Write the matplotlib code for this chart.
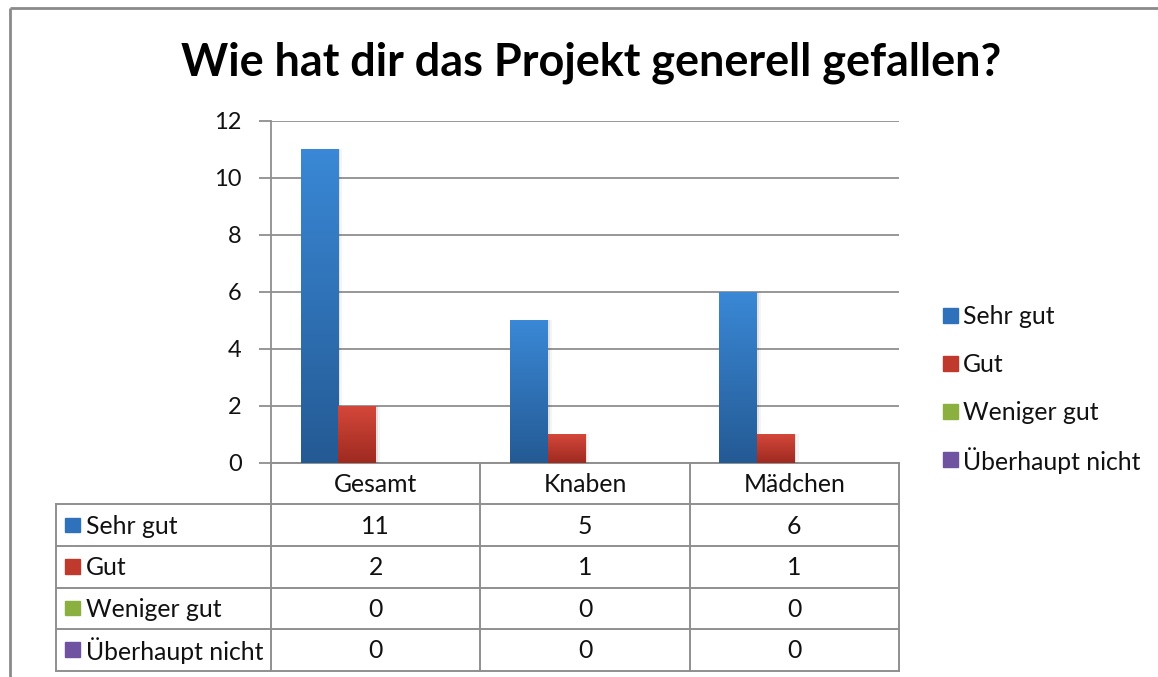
import numpy as np
import matplotlib
matplotlib.use("Agg")
import matplotlib.pyplot as plt
from matplotlib.patches import Rectangle
from matplotlib.colors import LinearSegmentedColormap

# ---------------- data ----------------
title = "Wie hat dir das Projekt generell gefallen?"
categories = ["Gesamt", "Knaben", "Mädchen"]
series_names = ["Sehr gut", "Gut", "Weniger gut", "Überhaupt nicht"]
sehr_gut = [11, 5, 6]
gut = [2, 1, 1]
weniger_gut = [0, 0, 0]
ueberhaupt_nicht = [0, 0, 0]
series_values = [sehr_gut, gut, weniger_gut, ueberhaupt_nicht]
y_ticks = [0, 2, 4, 6, 8, 10, 12]

# ---------------- style ----------------
top_colors = ["#3a88d6", "#d4473a", "#9bc04f", "#8064a8"]
bot_colors = ["#245a94", "#9e2a20", "#6e8f2f", "#5a3f85"]
mid_colors = ["#2f72bb", "#c0392d", "#8bb040", "#6f52a0"]
grid_c = "#8f8f8f"
text_c = "#111111"

plt.rcParams['font.family'] = ['Lato', 'DejaVu Sans']

W, H = 1158, 677
fig = plt.figure(figsize=(W / 100, H / 100), dpi=100)
fig.patch.set_facecolor("white")

# overlay axes in pixel coordinates (origin top-left)
ov = fig.add_axes([0, 0, 1, 1], zorder=0)
ov.set_xlim(0, W)
ov.set_ylim(H, 0)
ov.axis("off")

# main plot axes
L, R, T, B = 271, 899, 120.7, 462.7
ax = fig.add_axes([L / W, (H - B) / H, (R - L) / W, (B - T) / H], zorder=2)
ax.patch.set_visible(False)

n_cat = len(categories)
n_ser = len(series_values)
x = np.arange(n_cat)
bw = 0.179

for si, vals in enumerate(series_values):
    offs = (si - (n_ser - 1) / 2) * bw
    bars = ax.bar(x + offs, vals, width=bw, color=mid_colors[si], zorder=3,
                  linewidth=0)
    cmap = LinearSegmentedColormap.from_list("g%d" % si, [bot_colors[si], top_colors[si]])
    for p in bars:
        bx, by = p.get_x(), p.get_y()
        bwid, bh = p.get_width(), p.get_height()
        if bh <= 0:
            continue
        # soft shadow
        for k, a in enumerate([0.07, 0.04]):
            sh = Rectangle((bx + bwid, by), 0.01 * (k + 1), bh, color="#000000",
                           alpha=a, zorder=2, linewidth=0)
            ax.add_patch(sh)
        grad = np.linspace(0, 1, 256).reshape(-1, 1)
        im = ax.imshow(grad, cmap=cmap, extent=[bx, bx + bwid, by, by + bh],
                       origin="lower", aspect="auto", zorder=4)
        im.set_clip_path(p)

ax.set_xlim(-0.5, n_cat - 0.5)
ax.set_ylim(0, 12)
ax.set_yticks(y_ticks)
ax.set_yticklabels([str(t) for t in y_ticks], fontsize=17, color=text_c)
ax.set_xticks([])
ax.tick_params(axis="y", length=9, width=1.3, color=grid_c, pad=12)
ax.grid(axis="y", color=grid_c, linewidth=1.3, zorder=1)
ax.set_axisbelow(True)
for s in ["top", "right", "bottom"]:
    ax.spines[s].set_visible(False)
ax.spines["left"].set_color(grid_c)
ax.spines["left"].set_linewidth(1.3)

fig.canvas.draw()


def px(xd, yd):
    dx, dy = ax.transData.transform((xd, yd))
    return dx, H - dy


# ---------------- outer border ----------------
ov.plot([9.5, W], [8.3, 8.3], color="#8a8a8a", lw=2.0, solid_capstyle="butt")
ov.plot([9.5, 9.5], [8.3, H], color="#8a8a8a", lw=2.0, solid_capstyle="butt")

# ---------------- title ----------------
fig.text(591 / W, 1 - 63 / H, title, ha="center", va="center",
         fontsize=32.4, fontweight="bold", color="#000000")

# ---------------- data table ----------------
col_edges = [px(xi - 0.5, 0)[0] for xi in range(n_cat + 1)]
tab_left = 55.7
row_h = 41.6
tab_top = px(0, 0)[1]
row_edges = [tab_top + i * row_h for i in range(n_ser + 2)]
tab_bot = row_edges[-1]
lc = "#8f8f8f"
lw = 1.4
# horizontal lines
ov.plot([col_edges[0], col_edges[-1]], [row_edges[0], row_edges[0]], color=lc, lw=lw, zorder=3)
for ry in row_edges[1:]:
    ov.plot([tab_left, col_edges[-1]], [ry, ry], color=lc, lw=lw, zorder=3)
# vertical lines
for cx in col_edges:
    ov.plot([cx, cx], [row_edges[0], tab_bot], color=lc, lw=lw, zorder=3)
ov.plot([tab_left, tab_left], [row_edges[1], tab_bot], color=lc, lw=lw, zorder=3)

fs_tab = 17.8
for ci, cat in enumerate(categories):
    cx = (col_edges[ci] + col_edges[ci + 1]) / 2
    ov.text(cx, (row_edges[0] + row_edges[1]) / 2 + 1, cat, ha="center", va="center",
            fontsize=fs_tab, color=text_c)
for si, name in enumerate(series_names):
    cy = (row_edges[si + 1] + row_edges[si + 2]) / 2
    ov.add_patch(Rectangle((65, cy - 7.5), 14.5, 14.5, color=mid_colors[si], zorder=3))
    ov.text(86, cy + 1, name, ha="left", va="center", fontsize=fs_tab, color=text_c)
    for ci in range(n_cat):
        cx = (col_edges[ci] + col_edges[ci + 1]) / 2
        ov.text(cx, cy + 1, str(series_values[si][ci]), ha="center", va="center",
                fontsize=fs_tab, color=text_c)

# ---------------- legend ----------------
leg_y0 = 315
leg_dy = 48.2
for si, name in enumerate(series_names):
    cy = leg_y0 + si * leg_dy
    ov.add_patch(Rectangle((942.5, cy - 7.5), 15, 15, color=mid_colors[si], zorder=3))
    ov.text(963, cy + 1, name, ha="left", va="center", fontsize=fs_tab, color=text_c)

fig.savefig("out.png", dpi=100, facecolor="white")
